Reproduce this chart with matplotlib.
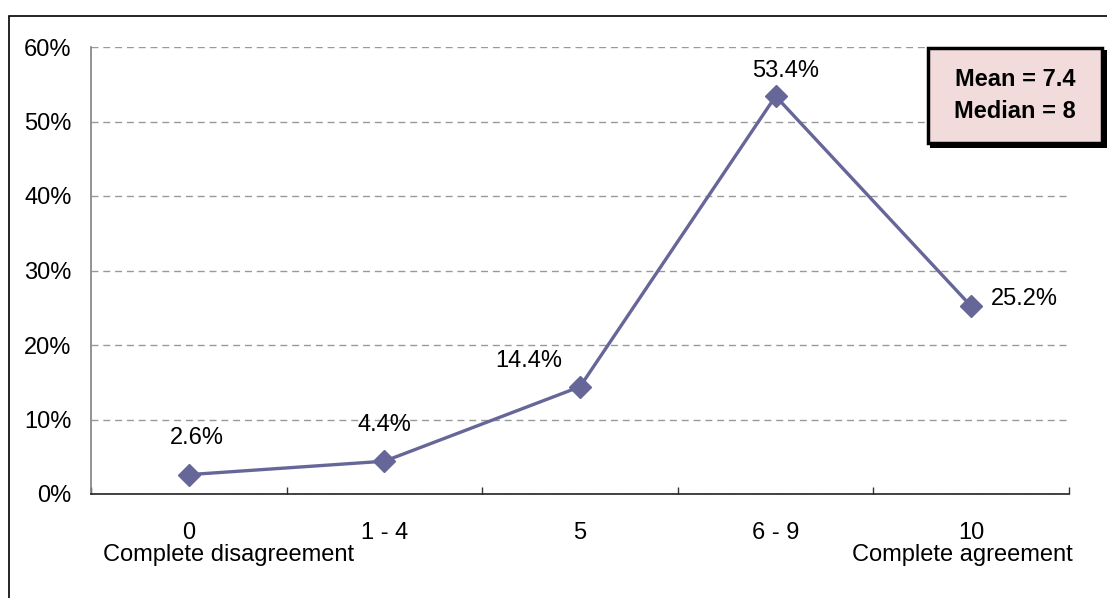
import matplotlib.pyplot as plt
from matplotlib.patches import Rectangle
from matplotlib.ticker import FixedLocator, FuncFormatter

plt.rcParams['font.family'] = ['Liberation Sans', 'DejaVu Sans']

# Datos de la serie
categories = ["0", "1 - 4", "5", "6 - 9", "10"]
values = [2.6, 4.4, 14.4, 53.4, 25.2]
# desplazamiento de cada etiqueta respecto a su punto (pixeles)
label_offsets = [(8, 37), (0, 36), (-51, 26), (10, 25), (53, 7)]

LINE = "#666699"

fig = plt.figure(figsize=(11.07, 5.98), dpi=100)
ax = fig.add_axes([91 / 1107, 1 - 494 / 598, (1069 - 91) / 1107, (494 - 47) / 598])

x = list(range(len(categories)))
ax.plot(x, values, color=LINE, lw=2.4, marker="D", ms=11,
        markerfacecolor=LINE, markeredgecolor=LINE, zorder=3)

for xi, v, off in zip(x, values, label_offsets):
    ax.annotate(f"{v:.1f}%", (xi, v), xytext=off, textcoords="offset pixels",
                ha="center", va="center", fontsize=17)

ax.set_xlim(-0.5, len(categories) - 0.5)
ax.set_ylim(0, 60)
ax.set_yticks(range(0, 61, 10))
ax.yaxis.set_major_formatter(FuncFormatter(lambda v, p: f"{v:.0f}%"))
ax.tick_params(axis="y", length=0, pad=14, labelsize=17)

ax.set_xticks(x)
ax.set_xticklabels(categories)
ax.xaxis.set_minor_locator(FixedLocator([i - 0.5 for i in range(len(categories) + 1)]))
ax.tick_params(axis="x", which="major", length=0, pad=20, labelsize=17)
ax.tick_params(axis="x", which="minor", direction="in", length=5, width=1, color="#333333")

ax.grid(axis="y", color="#999999", ls=(0, (5, 3.5)), lw=1)
ax.set_axisbelow(True)
for s in ["top", "right"]:
    ax.spines[s].set_visible(False)
ax.spines["left"].set_color("#808080")
ax.spines["left"].set_linewidth(1.2)
ax.spines["bottom"].set_color("#222222")
ax.spines["bottom"].set_linewidth(1.2)

# textos de los extremos de la escala
ax.text(-0.44, -0.137, "Complete disagreement", transform=ax.get_xaxis_transform(),
        ha="left", va="center", fontsize=17)
ax.text(4.52, -0.137, "Complete agreement", transform=ax.get_xaxis_transform(),
        ha="right", va="center", fontsize=17)

W, H = 1107, 598


def fig_rect(x0, y0, x1, y1, **kw):
    # rectangulo en pixeles, origen arriba a la izquierda
    r = Rectangle((x0 / W, 1 - y1 / H), (x1 - x0) / W, (y1 - y0) / H,
                  transform=fig.transFigure, **kw)
    fig.add_artist(r)


# marco exterior
fig_rect(9, 16, 1120, 620, fill=False, edgecolor="black", lw=1.2)

# cuadro de media y mediana
fig_rect(930, 50, 1107, 148, facecolor="black", edgecolor="none")
fig_rect(928, 48, 1102, 143, facecolor="#f2dcdb", edgecolor="black", lw=2.5)
fig.text(1015 / W, 1 - 80 / H, "Mean = 7.4", ha="center", va="center",
         fontsize=17, fontweight="bold")
fig.text(1015 / W, 1 - 111 / H, "Median = 8", ha="center", va="center",
         fontsize=17, fontweight="bold")

fig.savefig("out.png", dpi=100)
